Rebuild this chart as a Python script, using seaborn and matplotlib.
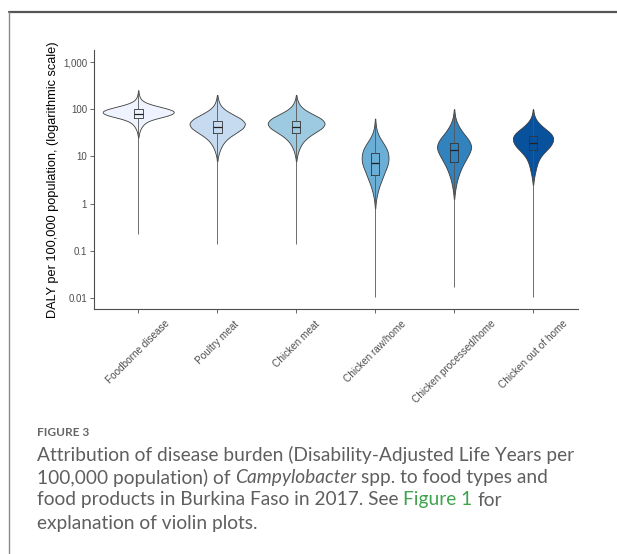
import numpy as np
import pandas as pd
import matplotlib
matplotlib.use("Agg")
import matplotlib.pyplot as plt
from matplotlib.lines import Line2D
from matplotlib.ticker import FixedLocator, FixedFormatter, NullLocator
import seaborn as sns

# ---------------- data ----------------
categories = ["Foodborne disease", "Poultry meat", "Chicken meat",
              "Chicken raw/home", "Chicken processed/home", "Chicken out of home"]

# violin density profiles: log10 level -> relative half-width
fd_levels = [2.40, 2.35, 2.30, 2.25, 2.20, 2.15, 2.10, 2.05, 2.00, 1.95, 1.90, 1.85,
             1.80, 1.75, 1.70, 1.65, 1.60, 1.55, 1.50, 1.45, 1.40]
fd_widths = [0.2, 0.4, 0.8, 1.5, 3.0, 6.0, 12.0, 21.0, 30.0, 35.0, 33.0, 26.0,
             16.0, 9.5, 6.0, 4.0, 2.6, 1.6, 0.9, 0.5, 0.2]

pm_levels = [2.3, 2.2, 2.1, 2.0, 1.9, 1.8, 1.7, 1.6, 1.5, 1.4, 1.3, 1.2, 1.1, 1.0, 0.9]
pm_widths = [0.2, 1.0, 2.5, 6.5, 14.0, 23.0, 27.3, 25.0, 18.0, 11.0, 6.5, 3.8, 2.0, 0.8, 0.2]

cm_levels = [2.3, 2.2, 2.1, 2.0, 1.9, 1.8, 1.7, 1.6, 1.5, 1.4, 1.3, 1.2, 1.1, 1.0, 0.9]
cm_widths = [0.2, 1.0, 2.8, 7.0, 15.0, 24.0, 27.5, 24.5, 17.0, 10.5, 6.2, 3.6, 1.9, 0.8, 0.2]

cr_levels = [1.8, 1.7, 1.6, 1.5, 1.4, 1.3, 1.2, 1.1, 1.0, 0.9, 0.8, 0.7, 0.6, 0.5, 0.4,
             0.3, 0.2, 0.1, 0.0, -0.1]
cr_widths = [0.2, 0.5, 1.1, 2.3, 4.5, 7.5, 10.5, 12.5, 13.2, 13.2, 12.0, 10.0, 8.2, 6.5, 4.6,
             3.2, 2.0, 1.1, 0.5, 0.2]

cp_levels = [2.0, 1.9, 1.8, 1.7, 1.6, 1.5, 1.4, 1.3, 1.2, 1.1, 1.0, 0.9, 0.8, 0.7, 0.6,
             0.5, 0.4, 0.3, 0.2, 0.1]
cp_widths = [0.2, 0.6, 1.4, 3.0, 5.5, 8.5, 12.5, 15.5, 16.7, 15.5, 13.0, 10.5, 8.0, 6.0, 4.4,
             3.0, 2.0, 1.2, 0.6, 0.2]

co_levels = [2.0, 1.9, 1.8, 1.7, 1.6, 1.5, 1.4, 1.3, 1.2, 1.1, 1.0, 0.9, 0.8, 0.7, 0.6,
             0.5, 0.4]
co_widths = [0.2, 0.7, 2.2, 5.5, 10.5, 16.5, 19.3, 18.5, 15.7, 11.0, 7.2, 4.8, 3.4, 2.4, 1.4,
             0.7, 0.2]

# box summaries: [min, Q1, median, Q3, max]  (DALY per 100,000)
fd_box = [0.23, 65, 81, 100, 250]
pm_box = [0.14, 32, 42, 55, 180]
cm_box = [0.14, 32, 42, 55, 180]
cr_box = [0.0105, 4.1, 7.2, 11.7, 63]
cp_box = [0.017, 7.7, 13.4, 19.2, 95]
co_box = [0.0105, 13.4, 19.2, 27, 87]

y_ticks = [0.01, 0.1, 1, 10, 100, 1000]
y_ticklabels = ["0.01", "0.1", "1", "10", "100", "1,000"]

# ---------------- styles ----------------
colors = ["#eff3ff", "#c6dbef", "#9ecae1", "#6baed6", "#3182bd", "#08519c"]
violin_w = [0.90, 0.70, 0.72, 0.34, 0.43, 0.51]
kde_bw = [0.035, 0.06, 0.06, 0.07, 0.07, 0.065]

levels_all = [fd_levels, pm_levels, cm_levels, cr_levels, cp_levels, co_levels]
widths_all = [fd_widths, pm_widths, cm_widths, cr_widths, cp_widths, co_widths]
boxes_all = [fd_box, pm_box, cm_box, cr_box, cp_box, co_box]

rows = []
for cat, lv, wd in zip(categories, levels_all, widths_all):
    vals = np.repeat(10.0 ** np.asarray(lv), np.round(np.asarray(wd) * 10).astype(int))
    rows.append(pd.DataFrame({"category": cat, "value": vals}))
violin_df = pd.concat(rows, ignore_index=True)

box_df = pd.concat([pd.DataFrame({"category": c, "value": b})
                    for c, b in zip(categories, boxes_all)], ignore_index=True)

sns.set_theme(style="ticks")
plt.rcParams["font.family"] = ["Liberation Sans", "DejaVu Sans"]

W, H = 617, 554
fig = plt.figure(figsize=(W / 100, H / 100), dpi=100)
ax = fig.add_axes([94 / W, 1 - 309 / H, (578 - 94) / W, (309 - 50) / H])

for cat, col, vw, bw in zip(categories, colors, violin_w, kde_bw):
    sub = violin_df[violin_df["category"] == cat]
    sd = np.log10(sub["value"]).std()
    sns.violinplot(data=sub, x="category", y="value", order=categories,
                   color=col, saturation=1, width=vw, density_norm="width",
                   cut=0, bw_method=bw / sd, gridsize=300, inner=None,
                   linewidth=0.6, linecolor="#3c3c3c", log_scale=True, ax=ax)

sns.boxplot(data=box_df, x="category", y="value", order=categories,
            whis=(0, 100), width=0.11, fill=False, color="#333333",
            linecolor="#333333", linewidth=0.6, showcaps=False, showfliers=False,
            log_scale=True, ax=ax,
            whiskerprops=dict(color="#555555", linewidth=0.6),
            medianprops=dict(color="#222222", linewidth=0.9))

ax.set_yscale("log")
ax.set_ylim(10 ** -2.234, 10 ** 3.255)
ax.set_xlim(-0.56, 5.57)
ax.yaxis.set_major_locator(FixedLocator(y_ticks))
ax.yaxis.set_major_formatter(FixedFormatter(y_ticklabels))
ax.yaxis.set_minor_locator(NullLocator())

ax.set_xlabel("")
ax.set_ylabel("DALY per 100,000 population, (logarithmic scale)",
              fontsize=9.2, color="black", labelpad=3)
for s in ["top", "right"]:
    ax.spines[s].set_visible(False)
for s in ["left", "bottom"]:
    ax.spines[s].set_color("#4d4d4d")
    ax.spines[s].set_linewidth(0.8)
ax.tick_params(axis="both", length=3, width=0.6, color="#4d4d4d",
               labelsize=7.0, labelcolor="#4d4d4d", pad=2)
plt.setp(ax.get_xticklabels(), rotation=45, ha="center", va="top")
ax.tick_params(axis="x", pad=4, labelsize=7.2)

# ---------------- frame and caption ----------------
fig.add_artist(Line2D([9 / W, 1.0], [1 - 12 / H, 1 - 12 / H],
                      transform=fig.transFigure, color="#555555", linewidth=1.6))
fig.add_artist(Line2D([9 / W, 9 / W], [0, 1 - 12 / H],
                      transform=fig.transFigure, color="#8a8a8a", linewidth=1.0))

cap_font = ["Lato", "DejaVu Sans"]
cap_col = "#5f5f5f"
fig.text(37 / W, 1 - 432 / H, "FIGURE 3", family=cap_font, fontsize=8.6,
         fontweight="bold", color="#666666", va="center", ha="left")

renderer = fig.canvas.get_renderer()


def text_w(s, **kw):
    t = fig.text(0, 0, s, **kw)
    w = t.get_window_extent(renderer).width
    t.remove()
    return w


line1 = "Attribution of disease burden (Disability-Adjusted Life Years per"
probe = text_w(line1, family=cap_font, fontsize=10)
cap_size = 10 * 540.0 / probe

base = dict(family=cap_font, fontsize=cap_size, color=cap_col, va="center", ha="left")
ita = dict(base, style="italic")

fig.text(37 / W, 1 - 455 / H, line1, **base)

space_w = text_w("| |", **base) - text_w("||", **base)

x = 37.0
p1 = "100,000 population) of"
fig.text(x / W, 1 - 478 / H, p1, **base)
x += text_w(p1, **base) + space_w
fig.text(x / W, 1 - 478 / H, "Campylobacter", **ita)
x += text_w("Campylobacter", **ita) + space_w
fig.text(x / W, 1 - 478 / H, "spp. to food types and", **base)

x = 37.0
p3 = "food products in Burkina Faso in 2017. See"
fig.text(x / W, 1 - 500 / H, p3, **base)
x += text_w(p3, **base) + space_w
fig.text(x / W, 1 - 500 / H, "Figure 1", **dict(base, color="#3fa34d"))
x += text_w("Figure 1", **base) + space_w
fig.text(x / W, 1 - 500 / H, "for", **base)

fig.text(37 / W, 1 - 523 / H, "explanation of violin plots.", **base)

fig.savefig("out.png", dpi=100)
